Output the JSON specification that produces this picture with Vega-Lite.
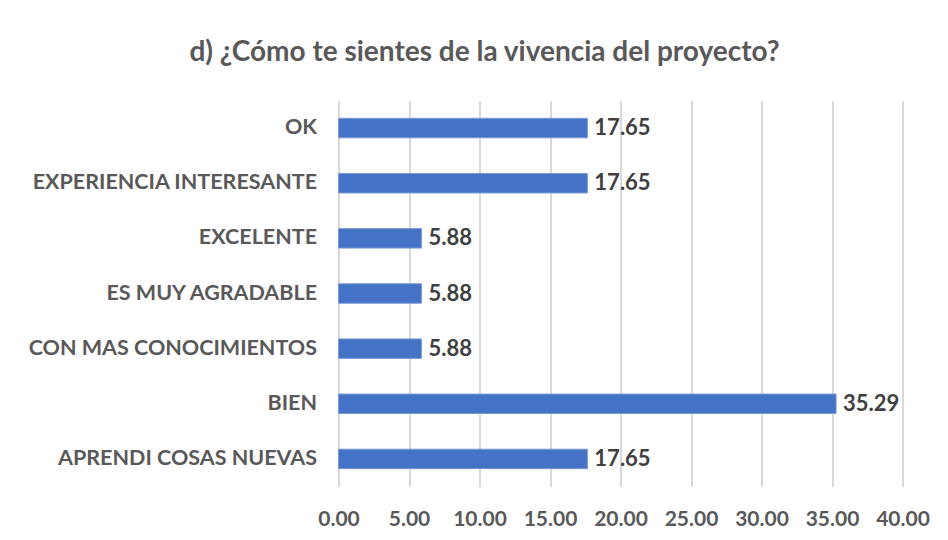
{
  "$schema": "https://vega.github.io/schema/vega-lite/v6.json",
  "autosize": "none",
  "width": 564,
  "height": 386,
  "padding": {"left": 338.5, "top": 100.5, "right": 45.5, "bottom": 53.5},
  "background": "white",
  "title": {
    "text": "d) ¿Cómo te sientes de la vivencia del proyecto?",
    "anchor": "middle",
    "frame": "group",
    "dx": -136,
    "offset": 34,
    "font": "Lato",
    "fontSize": 28,
    "fontWeight": "bold",
    "color": "#595959"
  },
  "data": {
    "values": [
      {"categoria": "OK", "valor": 17.65},
      {"categoria": "EXPERIENCIA INTERESANTE", "valor": 17.65},
      {"categoria": "EXCELENTE", "valor": 5.88},
      {"categoria": "ES MUY AGRADABLE", "valor": 5.88},
      {"categoria": "CON MAS CONOCIMIENTOS", "valor": 5.88},
      {"categoria": "BIEN", "valor": 35.29},
      {"categoria": "APRENDI COSAS NUEVAS", "valor": 17.65}
    ]
  },
  "encoding": {
    "y": {
      "field": "categoria",
      "type": "nominal",
      "sort": null,
      "title": null,
      "scale": {"paddingInner": 0.647, "paddingOuter": 0.3235},
      "axis": {
        "domain": false,
        "ticks": false,
        "grid": false,
        "labelPadding": 22,
        "labelFont": "Lato",
        "labelFontSize": 21.5,
        "labelFontWeight": "bold",
        "labelColor": "#595959",
        "labelLimit": 400
      }
    },
    "x": {
      "field": "valor",
      "type": "quantitative",
      "title": null,
      "scale": {"domain": [0, 40], "nice": false},
      "axis": {
        "values": [0, 5, 10, 15, 20, 25, 30, 35, 40],
        "format": ".2f",
        "domain": false,
        "ticks": false,
        "grid": true,
        "gridColor": "#D9D9D9",
        "gridWidth": 2,
        "labelFlush": false,
        "labelOverlap": false,
        "labelBound": false,
        "labelPadding": 22,
        "labelFont": "Lato",
        "labelFontSize": 21,
        "labelFontWeight": "bold",
        "labelColor": "#595959"
      }
    }
  },
  "layer": [
    {
      "mark": {"type": "bar", "color": "#4472C4", "stroke": "#7A9BD6", "strokeWidth": 1}
    },
    {
      "mark": {
        "type": "text",
        "align": "left",
        "baseline": "middle",
        "dx": 7,
        "font": "Lato",
        "fontSize": 22,
        "fontWeight": "bold",
        "color": "#404040"
      },
      "encoding": {"text": {"field": "valor", "type": "quantitative", "format": ".2f"}}
    }
  ],
  "config": {"view": {"stroke": null}}
}
